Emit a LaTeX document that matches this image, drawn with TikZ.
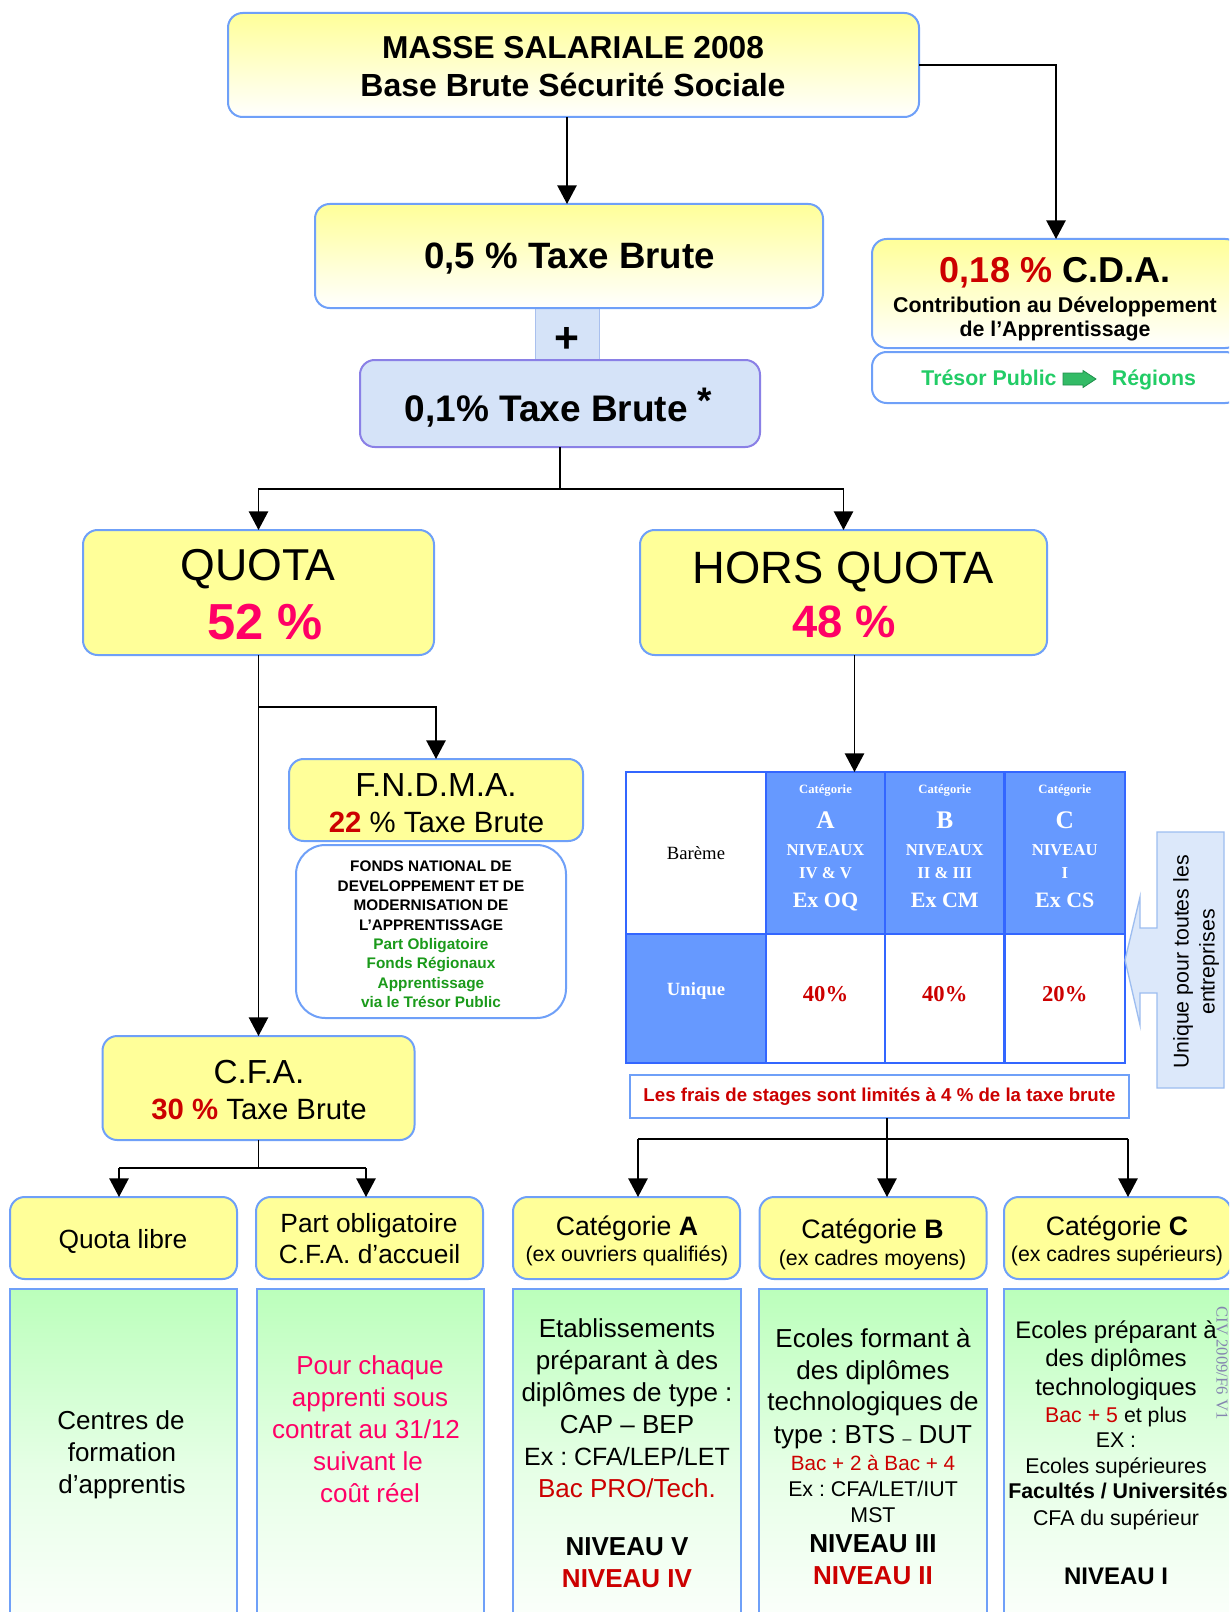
\documentclass[tikz,border=0pt]{standalone}
\usepackage{fontspec}
\setmainfont{Liberation Sans}
\newfontfamily\tnr{Liberation Serif}
\usetikzlibrary{arrows.meta}
\definecolor{bord}{HTML}{6FA0F8}
\definecolor{yel}{HTML}{FFFF99}
\definecolor{grn}{HTML}{BBFFBB}
\definecolor{grnm}{HTML}{E6FFE6}
\definecolor{dred}{HTML}{CC0000}
\definecolor{pnk}{HTML}{FF0066}
\definecolor{fgreen}{HTML}{1A9A1A}
\definecolor{tgreen}{HTML}{22CC66}
\definecolor{garf}{HTML}{33BB66}
\definecolor{gard}{HTML}{1E8F4A}
\definecolor{lblue}{HTML}{D5E3F8}
\definecolor{t01b}{HTML}{8A80E6}
\definecolor{plusb}{HTML}{A9C0EE}
\definecolor{hblue}{HTML}{6699FF}
\definecolor{tblue}{HTML}{3366FF}
\definecolor{callf}{HTML}{DCE8FA}
\definecolor{callb}{HTML}{9DBDF0}
\definecolor{civc}{HTML}{8585B0}
\newcommand\fsz[2]{\fontsize{#1}{#2}\selectfont}
\newcommand\tline[5]{\node[anchor=base,font={\frenchspacing#4}] (#1) at (#2,#3) {#5};}
\begin{document}
\frenchspacing
\begin{tikzpicture}[x=0.75pt,y=-0.75pt,
  every node/.style={inner sep=0pt, outer sep=0pt},
  wh/.style 2 args={minimum width=#1*0.75pt, minimum height=#2*0.75pt},
  bx/.style={draw=bord, line width=1.5pt, rounded corners=11pt},
  ybx/.style={bx, fill=yel},
  gbx/.style={bx, top color=yel, bottom color=white},
  grbx/.style={draw=bord, line width=1.5pt, top color=grn, bottom color=white, middle color=grnm},
  tc/.style={draw=tblue, line width=2pt},
  conn/.style={line width=1.2pt, black},
  arr/.style={conn, -{Triangle[length=14pt,width=14.5pt]}}]
\fill[white] (0,0) rectangle (1229,1612);
\useasboundingbox (0,0) rectangle (1229,1612);
\clip (0,0) rectangle (1229,1612);

% ---------- top part
\node[gbx, wh={691}{104}] (top) at (573.5,65) {};
\tline{topa}{573}{59}{\fsz{23.75}{28}\bfseries}{MASSE SALARIALE 2008}
\tline{topb}{573}{97}{\fsz{24}{28}\bfseries}{Base Brute Sécurité Sociale}

\node[draw=plusb, line width=0.75pt, fill=lblue, wh={64}{52}] (plus) at (567,334) {};
\node[font=\fsz{32}{32}\bfseries] (plustxt) at (567,340) {+};
\node[gbx, wh={508}{104}] (t05) at (569,256) {};
\tline{t05t}{569.5}{268}{\fsz{27.5}{32}\bfseries}{0,5 \% Taxe Brute}
\node[draw=t01b, line width=1.5pt, rounded corners=11pt, fill=lblue, wh={400}{87}] (t01) at (560,403.5) {};
\tline{t01t}{558.5}{421}{\fsz{27.75}{32}\bfseries}{0,1\% Taxe Brute \raisebox{0.2em}{*}}

\draw[arr] (plus.north |- top.south) -- (plus.north |- t05.north);

% ---------- CDA
\node[gbx, wh={368}{109}] (cda) at (1056,293.5) {};
\tline{cdaa}{1055}{282}{\fsz{27}{32}\bfseries}{\textcolor{dred}{0,18 \%} C.D.A.}
\tline{cdab}{1055}{312}{\fsz{16}{19}\bfseries}{Contribution au Développement}
\tline{cdac}{1055}{336}{\fsz{16}{19}\bfseries}{de l’Apprentissage}
\node[bx, fill=white, wh={368}{51}] (tres) at (1056,377.5) {};
\tline{tresa}{989}{385}{\fsz{16}{19}\bfseries}{\color{tgreen}Trésor Public}
\filldraw[fill=garf, draw=gard, line width=0.6pt]
  (1063,373) -- (1083,373) -- (1083,370.5) -- (1096,379) -- (1083,387.5) -- (1083,385) -- (1063,385) -- cycle;
\tline{tresb}{1154}{385}{\fsz{16}{19}\bfseries}{\color{tgreen}Régions}
\draw[arr] (top.east) -| (cda.north);

% ---------- QUOTA / HORS QUOTA
\node[ybx, wh={351}{125}] (quota) at (258.5,592.5) {};
\tline{quotaa}{258}{580}{\fsz{33.5}{40}}{QUOTA}
\tline{quotab}{265}{639}{\fsz{38}{44}\bfseries}{\color{pnk}52 \%}
\node[ybx, wh={407}{125}] (hq) at (843.5,592.5) {};
\tline{hqa}{843.5}{583}{\fsz{34}{40}}{HORS QUOTA}
\tline{hqb}{844}{637}{\fsz{34}{40}\bfseries}{\color{pnk}48 \%}

\coordinate (j1) at (560,489);
\draw[conn] (t01.south) -- (j1);
\draw[arr] (j1) -| (quota.north);
\draw[arr] (j1) -| (hq.north);

% ---------- FNDMA
\node[ybx, wh={294}{82}] (fndma) at (436,800) {};
\tline{fa}{436}{796}{\fsz{25}{30}}{F.N.D.M.A.}
\tline{fb}{436.5}{832}{\fsz{22}{26}}{\textbf{\textcolor{dred}{22}} \% Taxe Brute}
\node[bx, rounded corners=22pt, fill=white, wh={270}{173}] (fdesc) at (431,931.5) {};
\node[align=center, font=\fsz{11.5}{14.6}\bfseries] (fdt) at (431,934.5)
  {FONDS NATIONAL DE\\DEVELOPPEMENT ET DE\\MODERNISATION DE\\L’APPRENTISSAGE\\
   \textcolor{fgreen}{Part Obligatoire}\\\textcolor{fgreen}{Fonds Régionaux}\\
   \textcolor{fgreen}{Apprentissage}\\\textcolor{fgreen}{via le Trésor Public}};

% ---------- CFA
\node[ybx, wh={312}{104}] (cfa) at (258.5,1088) {};
\tline{cfaa}{259}{1083}{\fsz{25}{30}}{C.F.A.}
\tline{cfab}{259}{1119}{\fsz{22}{26}}{\textbf{\textcolor{dred}{30 \%}} Taxe Brute}
\draw[arr] (quota.south) -- (cfa.north);
\coordinate (j2) at (258.5,707);
\draw[arr] (j2) -| (fndma.north);

% ---------- Quota libre / Part obligatoire
\node[ybx, wh={227}{82}] (ql) at (123.5,1238) {};
\tline{qlt}{123}{1248}{\fsz{19.75}{24}}{Quota libre}
\node[ybx, wh={227}{82}] (po) at (369.5,1238) {};
\tline{poa}{369}{1232}{\fsz{19.75}{24}}{Part obligatoire}
\tline{pob}{369.5}{1263}{\fsz{19.75}{24}}{C.F.A. d’accueil}
\coordinate (j3) at (258.5,1168);
\coordinate (j3a) at (119,1168);
\coordinate (j3b) at (366,1168);
\draw[conn] (cfa.south) -- (j3);
\draw[conn] (j3a) -- (j3b);
\draw[arr] (j3a) -- (j3a |- ql.north);
\draw[arr] (j3b) -- (j3b |- po.north);

\node[grbx, wh={227}{360}] (gql) at (123.5,1469) {};
\tline{gql1}{121}{1429}{\fsz{19.5}{24}}{Centres de}
\tline{gql2}{122}{1461}{\fsz{19.5}{24}}{formation}
\tline{gql3}{122}{1493}{\fsz{19.5}{24}}{d’apprentis}
\node[grbx, wh={227}{360}] (gpo) at (370.5,1469) {};
\tline{gpo1}{370}{1374}{\fsz{19.5}{24}}{\color{pnk}Pour chaque}
\tline{gpo2}{370}{1406}{\fsz{19.5}{24}}{\color{pnk}apprenti sous}
\tline{gpo3}{366}{1438}{\fsz{19.5}{24}}{\color{pnk}contrat au 31/12}
\tline{gpo4}{368}{1470}{\fsz{19.5}{24}}{\color{pnk}suivant le}
\tline{gpo5}{370}{1502}{\fsz{19.5}{24}}{\color{pnk}coût réel}

% ---------- table
\node[tc, fill=white, wh={140}{162}] (c00) at (696,853) {};
\node[tc, fill=hblue, wh={119}{162}] (c01) at (825.5,853) {};
\node[tc, fill=hblue, wh={119.5}{162}] (c02) at (944.75,853) {};
\node[tc, fill=hblue, wh={120.5}{162}] (c03) at (1064.75,853) {};
\node[tc, fill=hblue, wh={140}{129}] (c10) at (696,998.5) {};
\node[tc, fill=white, wh={119}{129}] (c11) at (825.5,998.5) {};
\node[tc, fill=white, wh={119.5}{129}] (c12) at (944.75,998.5) {};
\node[tc, fill=white, wh={120.5}{129}] (c13) at (1064.75,998.5) {};
\tline{bareme}{696}{859}{\tnr\fsz{14}{16}}{Barème}
\tline{uniq}{696}{995}{\tnr\fsz{14}{16}\bfseries}{\color{white}Unique}
\foreach \cx/\L/\N/\R/\E [count=\i] in {825.5/A/NIVEAUX/IV \& V/Ex OQ, 944.75/B/NIVEAUX/II \& III/Ex CM, 1064.75/C/NIVEAU/I/Ex CS}{
  \node[anchor=base, text=white, font=\tnr\fsz{9.5}{11}\bfseries] (hcat\i) at (\cx,793) {Catégorie};
  \node[anchor=base, text=white, font=\tnr\fsz{19}{22}\bfseries] (hlet\i) at (\cx,828) {\L};
  \node[anchor=base, text=white, font=\tnr\fsz{12.5}{14}\bfseries] (hniv\i) at (\cx,855) {\N};
  \node[anchor=base, text=white, font=\tnr\fsz{12.5}{14}\bfseries] (hrom\i) at (\cx,878) {\R};
  \node[anchor=base, text=white, font=\tnr\fsz{16.5}{19}\bfseries] (hex\i) at (\cx,907) {\E};
}
\foreach \cx/\p [count=\i] in {825.5/40, 944.75/40, 1064.75/20}{
  \node[anchor=base, text=dred, font=\tnr\fsz{17}{20}\bfseries] (pct\i) at (\cx,1001) {\p\%};
}
\draw[arr] ([xshift=8.25pt]hq.south) -- ([xshift=8.25pt]hq.south |- c01.north);

% callout
\filldraw[fill=callf, draw=callb, line width=1pt]
  (1157,832) -- (1224,832) -- (1224,1088) -- (1157,1088) -- (1157,993) -- (1140,993)
  -- (1140,1025) -- (1125,960) -- (1140,897) -- (1140,928) -- (1157,928) -- cycle;
\node[rotate=90, align=center, font=\fsz{16}{19.5}] (callt) at (1196,962) {Unique pour toutes les\\entreprises};

% frais
\node[draw=bord, line width=1.5pt, fill=white, wh={499}{43}, font=\fsz{14}{16}\bfseries, text=dred] (frais) at (879.5,1096.5)
  {Les frais de stages sont limités à 4 \% de la taxe brute};

\coordinate (jc) at (887,1139);
\coordinate (jA) at (638,1139);
\coordinate (jC) at (1128,1139);
\draw[conn] (jc |- frais.south) -- (jc);
\draw[conn] (jA) -- (jC);

% ---------- categories
\node[ybx, wh={227}{82}] (catA) at (626.5,1238) {};
\node[ybx, wh={227}{82}] (catB) at (873,1238) {};
\node[ybx, wh={227}{82}] (catC) at (1117.5,1238) {};
\draw[arr] (jA) -- (jA |- catA.north);
\draw[arr] (jc) -- (jc |- catB.north);
\draw[arr] (jC) -- (jC |- catC.north);
\tline{cata1}{627}{1235}{\fsz{20}{24}}{Catégorie \textbf{A}}
\tline{cata2}{627}{1261}{\fsz{16}{19}}{(ex ouvriers qualifiés)}
\tline{catb1}{872.5}{1238}{\fsz{20}{24}}{Catégorie \textbf{B}}
\tline{catb2}{872.5}{1265}{\fsz{16}{19}}{(ex cadres moyens)}
\tline{catc1}{1117}{1235}{\fsz{20}{24}}{Catégorie \textbf{C}}
\tline{catc2}{1117}{1261}{\fsz{16}{19}}{(ex cadres supérieurs)}

\node[grbx, wh={228}{360}] (gA) at (627,1469) {};
\node[grbx, wh={228}{360}] (gB) at (873,1469) {};
\node[grbx, wh={228}{360}] (gC) at (1118,1469) {};

\tline{ga1}{627}{1337}{\fsz{19.5}{24}}{Etablissements}
\tline{ga2}{627}{1369}{\fsz{19.5}{24}}{préparant à des}
\tline{ga3}{627}{1401}{\fsz{19.5}{24}}{diplômes de type :}
\tline{ga4}{627}{1433}{\fsz{19.5}{24}}{CAP – BEP}
\tline{ga5}{627}{1465}{\fsz{18.75}{24}}{Ex : CFA/LEP/LET}
\tline{ga6}{627}{1497}{\fsz{19.5}{24}}{\color{dred}Bac PRO/Tech.}
\tline{ga7}{627}{1555}{\fsz{19.5}{24}\bfseries}{NIVEAU V}
\tline{ga8}{627}{1587}{\fsz{19.5}{24}\bfseries}{\color{dred}NIVEAU IV}

\tline{gb1}{873}{1347}{\fsz{19.5}{24}}{Ecoles formant à}
\tline{gb2}{873}{1379}{\fsz{19.5}{24}}{des diplômes}
\tline{gb3}{873}{1410}{\fsz{19.5}{24}}{technologiques de}
\tline{gb4}{873}{1443}{\fsz{19.5}{24}}{type : BTS {\fsz{12}{12}\raisebox{-0.1em}{–}} DUT}
\tline{gb5}{873}{1470}{\fsz{15.5}{18}}{\color{dred}Bac + 2 à Bac + 4}
\tline{gb6}{873}{1496}{\fsz{16}{18}}{Ex : CFA/LET/IUT}
\tline{gb7}{873}{1522}{\fsz{16}{18}}{MST}
\tline{gb8}{873}{1552}{\fsz{19.5}{24}\bfseries}{NIVEAU III}
\tline{gb9}{873}{1584}{\fsz{19.5}{24}\bfseries}{\color{dred}NIVEAU II}

\tline{gc1}{1116}{1338}{\fsz{18}{21}}{Ecoles préparant à}
\tline{gc2}{1116}{1366}{\fsz{18}{21}}{des diplômes}
\tline{gc3}{1116}{1395}{\fsz{18}{21}}{technologiques}
\tline{gc4}{1116}{1422}{\fsz{16}{19}}{\textcolor{dred}{Bac + 5} et plus}
\tline{gc5}{1116}{1447}{\fsz{16}{19}}{EX :}
\tline{gc6}{1116}{1473}{\fsz{16}{19}}{Ecoles supérieures}
\tline{gc7}{1118}{1498}{\fsz{16}{19}\bfseries}{Facultés / Universités}
\tline{gc8}{1116}{1525}{\fsz{16}{19}}{CFA du supérieur}
\tline{gc9}{1116}{1584}{\fsz{18}{21}\bfseries}{NIVEAU I}

\node[rotate=-90, font=\tnr\fsz{12.5}{12.5}, text=civc] (civ) at (1222,1363) {CIV 2009/F6 V1};
\end{tikzpicture}
\end{document}
